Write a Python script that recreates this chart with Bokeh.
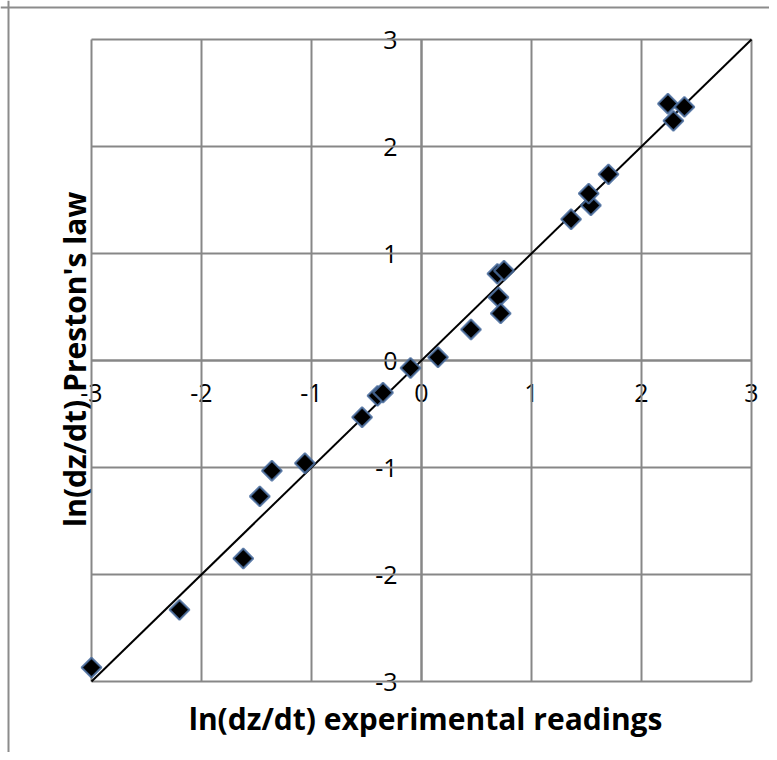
import math
from bokeh.plotting import figure
from bokeh.models import FixedTicker, Label, Range1d, Span
from bokeh.embed import file_html
from bokeh.resources import INLINE

# ---- data ----
exp_readings = [-3.00, -2.20, -1.62, -1.47, -1.36, -1.06, -0.54, -0.40, -0.35, -0.10,
                0.15, 0.45, 0.70, 0.72, 0.69, 0.75, 1.36, 1.54, 1.52, 1.70, 2.24, 2.39, 2.29]
preston_law = [-2.87, -2.33, -1.85, -1.27, -1.03, -0.96, -0.53, -0.33, -0.30, -0.07,
               0.03, 0.29, 0.59, 0.44, 0.81, 0.84, 1.32, 1.45, 1.56, 1.74, 2.40, 2.37, 2.24]
line_x = [-3, 3]
line_y = [-3, 3]
ticks = [-3, -2, -1, 0, 1, 2, 3]
tick_labels = ["-3", "-2", "-1", "0", "1", "2", "3"]
x_title = "ln(dz/dt)  experimental readings"
y_title = "ln(dz/dt)  Preston's law"

GRID = "#878787"
W, H = 769, 752
# plot-area placement in the figure (pixels)
PL, PR, PT, PB = 91, 751, 39, 681
lo, hi = min(ticks), max(ticks)
sx = (PR - PL) / (hi - lo)
sy = (PB - PT) / (hi - lo)
x_range = Range1d(lo - PL / sx, hi + (W - PR) / sx)
y_range = Range1d(lo - (H - PB) / sy, hi + PT / sy)

p = figure(width=W, height=H, output_backend="svg", toolbar_location=None,
           x_range=x_range, y_range=y_range, min_border=0)
p.outline_line_color = None
p.background_fill_color = "white"
p.border_fill_color = "white"
p.grid.visible = False

# outer chart border (left and top only visible in reference)
p.add_layout(Span(location=x_range.start + 8 / sx, dimension="height",
                  line_color="#8c8c8c", line_width=2))
p.add_layout(Span(location=y_range.end - 7 / sy, dimension="width",
                  line_color="#8c8c8c", line_width=2))

# gridlines
n = len(ticks)
p.segment(x0=ticks, y0=[lo] * n, x1=ticks, y1=[hi] * n, line_color=GRID, line_width=2)
p.segment(x0=[lo] * n, y0=ticks, x1=[hi] * n, y1=ticks, line_color=GRID, line_width=2)

for ax in (p.xaxis[0], p.yaxis[0]):
    ax.fixed_location = 0
    ax.bounds = (lo, hi)
    ax.level = "underlay"
    ax.ticker = FixedTicker(ticks=ticks)
    ax.major_label_overrides = {t: l for t, l in zip(ticks, tick_labels)}
    ax.axis_line_color = GRID
    ax.axis_line_width = 2
    ax.major_tick_line_color = None
    ax.minor_tick_line_color = None
    ax.major_label_text_font = "Open Sans"
    ax.major_label_text_font_size = "25px"
    ax.major_label_text_color = "black"
p.xaxis[0].major_label_standoff = 17
p.yaxis[0].major_label_standoff = 18

p.line(line_x, line_y, line_color="black", line_width=2)
p.scatter(exp_readings, preston_law, marker="square", angle=math.pi / 4, size=14,
          fill_color="black", line_color="#4b6fa0", line_width=2.2, line_alpha=0.85)

p.add_layout(Label(x=0, y=lo, x_offset=8, y_offset=-37, text=x_title,
                   text_align="center", text_baseline="middle",
                   text_font="Open Sans", text_font_style="bold",
                   text_font_size="30px", text_color="black"))
p.add_layout(Label(x=lo, y=0, x_offset=-17, y_offset=5, text=y_title, angle=math.pi / 2,
                   text_align="center", text_baseline="middle",
                   text_font="Open Sans", text_font_style="bold",
                   text_font_size="30px", text_color="black"))

open("out.html", "w").write(file_html(p, INLINE))
